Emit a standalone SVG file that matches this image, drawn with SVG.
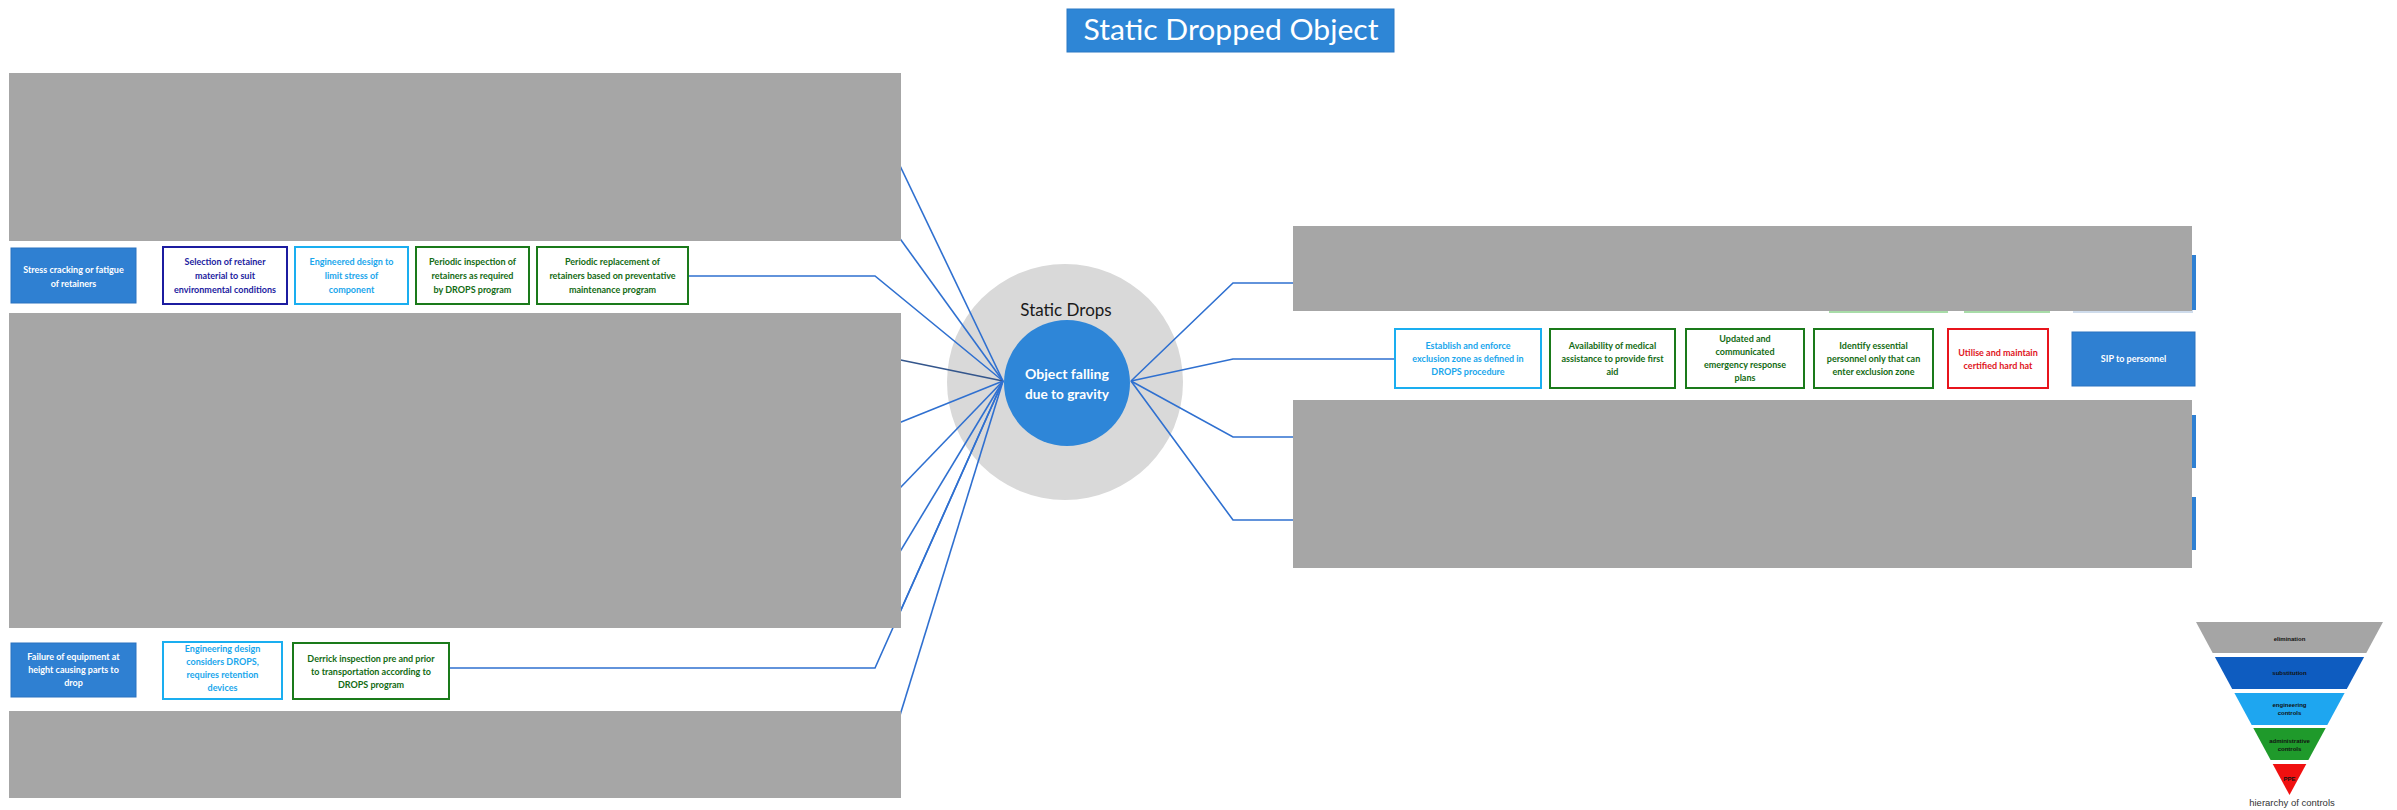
<svg xmlns="http://www.w3.org/2000/svg" width="2397" height="810" viewBox="0 0 2397 810">
  <defs>
    <style>
      .bg { fill: #ffffff; }
      .mask { fill: #a6a6a6; }
      .wire { fill: none; stroke: #2f70d0; stroke-width: 1.6; }
      .wire-dark { fill: none; stroke: #34568c; stroke-width: 1.6; }
      .cause { fill: #2f80d2; stroke: #2a72c0; stroke-width: 1; }
      .cause-t { fill: #ffffff; font-family: Lato, "Liberation Sans", sans-serif; font-size: 9px; font-weight: bold; text-anchor: middle; }
      .box { fill: #ffffff; stroke-width: 2; }
      .navy { stroke: #1c1ca0; }
      .sky { stroke: #1aaef0; }
      .grn { stroke: #1a7a1a; }
      .red { stroke: #e8141c; }
      .t { font-family: Lato, "Liberation Sans", sans-serif; font-size: 9px; font-weight: bold; text-anchor: middle; }
      .navy-t { fill: #1c1ca0; }
      .sky-t { fill: #19a6ec; }
      .grn-t { fill: #136b13; }
      .red-t { fill: #e0141c; }
      .pyr-t { font-family: "Liberation Sans", sans-serif; font-size: 6px; font-weight: bold; fill: #111111; text-anchor: middle; }
    </style>
  </defs>

  <rect class="bg" x="0" y="0" width="2397" height="810"/>

  <!-- title -->
  <g id="title">
    <rect x="1067" y="9" width="327" height="43" fill="#2e86d6" stroke="#2a78c4" stroke-width="1"/>
    <text x="1231" y="40" font-family="Lato, 'Liberation Sans', sans-serif" font-size="28" fill="#ffffff" text-anchor="middle" textLength="295" lengthAdjust="spacingAndGlyphs">Static Dropped Object</text>
  </g>

  <!-- halo behind the hub -->
  <circle id="hub-halo" cx="1065" cy="382" r="118" fill="#d9d9d9"/>

  <!-- connectors -->
  <g id="connectors">
    <path class="wire" d="M880,124 L1003,381"/>
    <path class="wire" d="M880,211 L1003,381"/>
    <path class="wire" d="M688,276 H875 L1003,381"/>
    <path class="wire-dark" d="M880,355.7 L1003,381"/>
    <path class="wire" d="M880,430.4 L1003,381"/>
    <path class="wire" d="M880,508.8 L1003,381"/>
    <path class="wire" d="M880,584.8 L1003,381"/>
    <path class="wire" d="M897,619 L1003,381"/>
    <path class="wire" d="M449,668 H875 L1003,381"/>
    <path class="wire" d="M895,731.5 L1003,381"/>

    <path class="wire" d="M1131,381 L1233,283 H1300"/>
    <path class="wire" d="M1131,381 L1233,359 H1395"/>
    <path class="wire" d="M1131,381 L1233,437 H1300"/>
    <path class="wire" d="M1131,381 L1233,520 H1300"/>
  </g>

  <!-- hub -->
  <g id="hub">
    <text x="1066" y="316" font-family="Lato, 'Liberation Sans', sans-serif" font-size="17" fill="#1a1a1a" text-anchor="middle">Static Drops</text>
    <circle cx="1067" cy="383" r="63" fill="#2e86d8"/>
    <text x="1067" y="379" font-family="Lato, 'Liberation Sans', sans-serif" font-size="13" font-weight="bold" fill="#ffffff" text-anchor="middle" textLength="84" lengthAdjust="spacingAndGlyphs">Object falling</text>
    <text x="1067" y="399" font-family="Lato, 'Liberation Sans', sans-serif" font-size="13" font-weight="bold" fill="#ffffff" text-anchor="middle" textLength="84" lengthAdjust="spacingAndGlyphs">due to gravity</text>
  </g>

  <!-- threat: stress cracking -->
  <g id="cause-stress">
    <rect class="cause" x="11" y="248" width="125" height="55"/>
    <text class="cause-t" x="73.5" y="273">Stress cracking or fatigue</text>
    <text class="cause-t" x="73.5" y="287">of retainers</text>
  </g>
  <g id="ctl-material">
    <rect class="box navy" x="163" y="247" width="124" height="57"/>
    <text class="t navy-t" x="225" y="265">Selection of retainer</text>
    <text class="t navy-t" x="225" y="279">material to suit</text>
    <text class="t navy-t" x="225" y="293">environmental conditions</text>
  </g>
  <g id="ctl-design">
    <rect class="box sky" x="295" y="247" width="113" height="57"/>
    <text class="t sky-t" x="351.5" y="265">Engineered design to</text>
    <text class="t sky-t" x="351.5" y="279">limit stress of</text>
    <text class="t sky-t" x="351.5" y="293">component</text>
  </g>
  <g id="ctl-inspection">
    <rect class="box grn" x="416" y="247" width="113" height="57"/>
    <text class="t grn-t" x="472.5" y="265">Periodic inspection of</text>
    <text class="t grn-t" x="472.5" y="279">retainers as required</text>
    <text class="t grn-t" x="472.5" y="293">by DROPS program</text>
  </g>
  <g id="ctl-replacement">
    <rect class="box grn" x="537" y="247" width="151" height="57"/>
    <text class="t grn-t" x="612.5" y="265">Periodic replacement of</text>
    <text class="t grn-t" x="612.5" y="279">retainers based on preventative</text>
    <text class="t grn-t" x="612.5" y="293">maintenance program</text>
  </g>

  <!-- threat: equipment at height -->
  <g id="cause-height">
    <rect class="cause" x="11" y="643" width="125" height="54"/>
    <text class="cause-t" x="73.5" y="660">Failure of equipment at</text>
    <text class="cause-t" x="73.5" y="673">height causing parts to</text>
    <text class="cause-t" x="73.5" y="686">drop</text>
  </g>
  <g id="ctl-retention">
    <rect class="box sky" x="163" y="642" width="119" height="57"/>
    <text class="t sky-t" x="222.5" y="652">Engineering design</text>
    <text class="t sky-t" x="222.5" y="665">considers DROPS,</text>
    <text class="t sky-t" x="222.5" y="678">requires retention</text>
    <text class="t sky-t" x="222.5" y="691">devices</text>
  </g>
  <g id="ctl-derrick">
    <rect class="box grn" x="293" y="643" width="156" height="56"/>
    <text class="t grn-t" x="371" y="662">Derrick inspection pre and prior</text>
    <text class="t grn-t" x="371" y="675">to transportation according to</text>
    <text class="t grn-t" x="371" y="688">DROPS program</text>
  </g>

  <!-- consequence side -->
  <g id="ctl-exclusion">
    <rect class="box sky" x="1395" y="329" width="146" height="59"/>
    <text class="t sky-t" x="1468" y="349">Establish and enforce</text>
    <text class="t sky-t" x="1468" y="362">exclusion zone as defined in</text>
    <text class="t sky-t" x="1468" y="375">DROPS procedure</text>
  </g>
  <g id="ctl-medical">
    <rect class="box grn" x="1550" y="329" width="125" height="59"/>
    <text class="t grn-t" x="1612.5" y="349">Availability of medical</text>
    <text class="t grn-t" x="1612.5" y="362">assistance to provide first</text>
    <text class="t grn-t" x="1612.5" y="375">aid</text>
  </g>
  <g id="ctl-erp">
    <rect class="box grn" x="1686" y="329" width="118" height="59"/>
    <text class="t grn-t" x="1745" y="342">Updated and</text>
    <text class="t grn-t" x="1745" y="355">communicated</text>
    <text class="t grn-t" x="1745" y="368">emergency response</text>
    <text class="t grn-t" x="1745" y="381">plans</text>
  </g>
  <g id="ctl-personnel">
    <rect class="box grn" x="1814" y="329" width="119" height="59"/>
    <text class="t grn-t" x="1873.5" y="349">Identify essential</text>
    <text class="t grn-t" x="1873.5" y="362">personnel only that can</text>
    <text class="t grn-t" x="1873.5" y="375">enter exclusion zone</text>
  </g>
  <g id="ctl-hardhat">
    <rect class="box red" x="1948" y="329" width="100" height="59"/>
    <text class="t red-t" x="1998" y="356">Utilise and maintain</text>
    <text class="t red-t" x="1998" y="369">certified hard hat</text>
  </g>
  <g id="outcome-sip">
    <rect class="cause" x="2072" y="332" width="123" height="54"/>
    <text class="cause-t" x="2133.5" y="362">SIP to personnel</text>
  </g>

  <!-- edges of boxes showing past the covered areas -->
  <g id="edge-slivers">
    <rect x="2189" y="255" width="7" height="55" fill="#2f80d2"/>
    <rect x="2189" y="415" width="7" height="53" fill="#2f80d2"/>
    <rect x="2189" y="497" width="7" height="53" fill="#2f80d2"/>
    <rect x="1829" y="310" width="119" height="3" fill="#a8dca8"/>
    <rect x="1964" y="310" width="86" height="3" fill="#a8dca8"/>
    <rect x="2073" y="310" width="120" height="3" fill="#cfdcec"/>
  </g>

  <!-- covered areas -->
  <g id="covered">
    <rect class="mask" x="9" y="73" width="892" height="168"/>
    <rect class="mask" x="9" y="313" width="892" height="315"/>
    <rect class="mask" x="9" y="711" width="892" height="87"/>
    <rect class="mask" x="1293" y="226" width="899" height="85"/>
    <rect class="mask" x="1293" y="400" width="899" height="168"/>
  </g>

  <!-- hierarchy of controls -->
  <g id="hierarchy">
    <polygon points="2196,622 2383,622 2366.3,653 2212.7,653" fill="#a5a5a5"/>
    <polygon points="2214.9,657 2364.1,657 2346.8,689 2232.2,689" fill="#0e5cc0"/>
    <polygon points="2234.4,693 2344.6,693 2327.3,725 2251.7,725" fill="#1ea6f0"/>
    <polygon points="2253.3,728 2325.7,728 2308.4,760 2270.6,760" fill="#1f9a2b"/>
    <polygon points="2272.7,764 2306.3,764 2289.5,795" fill="#f01010"/>
    <text class="pyr-t" x="2289.5" y="641">elimination</text>
    <text class="pyr-t" x="2289.5" y="675">substitution</text>
    <text class="pyr-t" x="2289.5" y="707">engineering</text>
    <text class="pyr-t" x="2289.5" y="715">controls</text>
    <text class="pyr-t" x="2289.5" y="743">administrative</text>
    <text class="pyr-t" x="2289.5" y="751">controls</text>
    <text class="pyr-t" x="2289.5" y="781">PPE</text>
    <text x="2292" y="806" font-family="'Liberation Sans', sans-serif" font-size="9.5" fill="#333333" text-anchor="middle">hierarchy of controls</text>
  </g>
</svg>
